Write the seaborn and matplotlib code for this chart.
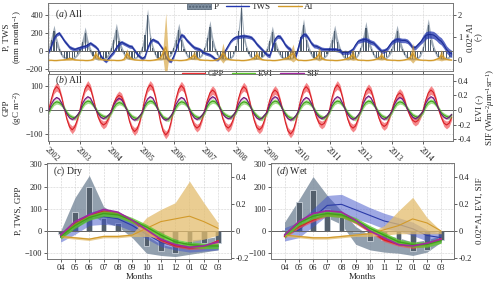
import numpy as np
import matplotlib
matplotlib.use("Agg")
import matplotlib.pyplot as plt
from matplotlib.patches import Patch
from matplotlib.lines import Line2D
import seaborn as sns

# ---------------- data ----------------
years = ['2002', '2003', '2004', '2005', '2006', '2007', '2008',
         '2009', '2010', '2011', '2012', '2013', '2014']
months = ['04', '05', '06', '07', '08', '09', '10', '11', '12', '01', '02', '03']

# (a) monthly anomalies, Apr 2002 - Mar 2015
p_all = [30, 120, 220, 100, 20, -40, -70, -80, -75, -80, -65, -30,
         20, 100, 200, 80, 10, -50, -75, -85, -80, -80, -70, -35,
         40, 130, 240, 110, 30, -30, -70, -80, -80, -75, -60, -25,
         50, 180, 400, 150, 40, -40, -75, -85, -80, -80, -65, -30,
         40, 130, 240, 120, 30, -35, -70, -80, -80, -75, -65, -30,
         40, 150, 270, 110, 20, -40, -70, -85, -85, -80, -70, -35,
         60, 220, 480, 160, 40, -30, -65, -80, -80, -75, -60, -25,
         30, 110, 210, 90, 20, -40, -70, -80, -80, -80, -70, -30,
         50, 160, 290, 120, 30, -35, -70, -80, -85, -80, -65, -30,
         40, 120, 220, 100, 20, -40, -75, -85, -80, -80, -70, -30,
         40, 140, 260, 110, 30, -40, -70, -80, -80, -80, -65, -30,
         30, 120, 220, 100, 20, -40, -70, -80, -85, -80, -70, -35,
         50, 170, 290, 130, 40, -30, -65, -80, -80, -75, -65, -30]
p_spread_month = [30, 50, 70, 50, 30, 20, 15, 12, 10, 10, 12, 20]

tws_all = [-10, 60, 140, 185, 200, 160, 115, 80, 45, 30, 20, 30,
           40, 50, 55, 70, 90, 70, 50, 20, -50, -90, -110, -80,
           -40, -10, 40, 80, 100, 85, 70, 55, 50, 10, -30, -60,
           -80, -60, 30, 100, 130, 115, 100, 60, 20, -60, -100, -110,
           -60, 20, 110, 180, 165, 125, 95, 65, 40, 30, 20, 0,
           -20, -30, -40, -60, -85, -90, -60, -30, 10, 60, 110, 140,
           155, 160, 165, 170, 165, 160, 150, 120, 80, 50, 20, -10,
           -40, -50, 40, 130, 165, 160, 120, 70, 40, 20, -30, -60,
           40, 150, 185, 180, 140, 90, 60, 55, 40, 25, 20, 20,
           20, 20, 20, 15, 5, -15, -10, -15, 0, 20, 70, 110,
           120, 130, 130, 115, 100, 90, 60, 30, 0, 5, 20, 60,
           100, 120, 130, 125, 120, 120, 110, 80, 40, 40, 70, 100,
           140, 175, 185, 185, 180, 160, 130, 110, 70, 20, -10, -30]
tws_spread_year = [20, 18, 20, 18, 20, 18, 20, 22, 22, 22, 25, 25, 40]

ai_all = [-0.02, -0.02, -0.03, -0.03, -0.02, -0.01, 0.00, 0.02, 0.05, 0.03, 0.00, -0.01,
          -0.02, -0.02, -0.03, -0.03, -0.02, 0.02, 0.25, 0.10, 0.02, 0.00, -0.01, -0.02,
          -0.02, -0.02, -0.03, -0.03, -0.02, 0.03, 0.28, 0.12, 0.03, 0.00, -0.01, -0.02,
          -0.02, -0.02, -0.03, -0.03, -0.02, 0.00, 0.03, 0.10, 0.30, 0.58, 0.05, -0.01,
          -0.02, -0.02, -0.03, -0.03, -0.02, 0.00, 0.05, 0.12, 0.20, 0.06, 0.00, -0.01,
          -0.02, -0.02, -0.03, -0.03, -0.02, 0.02, 0.10, 0.30, 0.10, 0.02, 0.00, -0.01,
          -0.02, -0.02, -0.03, -0.03, -0.02, 0.00, 0.03, 0.08, 0.22, 0.08, 0.01, -0.01,
          -0.02, -0.02, -0.03, -0.03, -0.02, 0.00, 0.02, 0.05, 0.10, 0.18, 0.30, 0.05,
          -0.02, -0.02, -0.03, -0.03, -0.02, 0.00, 0.03, 0.10, 0.25, 0.08, 0.01, -0.01,
          -0.02, -0.02, -0.03, -0.03, -0.02, 0.00, 0.02, 0.06, 0.12, 0.22, 0.05, -0.01,
          -0.02, -0.02, -0.03, -0.03, -0.02, 0.00, 0.03, 0.08, 0.18, 0.06, 0.00, -0.01,
          -0.02, -0.02, -0.03, -0.03, -0.02, 0.00, 0.03, 0.10, 0.30, 0.08, 0.01, -0.01,
          -0.02, -0.02, -0.03, -0.03, -0.02, 0.02, 0.06, 0.20, 0.08, 0.02, 0.00, -0.01]
ai_spread = [0.02, 0.02, 0.02, 0.02, 0.02, 0.02, 0.03, 0.05, 0.08, 0.05, 0.03, 0.02,
             0.02, 0.02, 0.02, 0.02, 0.02, 0.05, 0.20, 0.10, 0.04, 0.02, 0.02, 0.02,
             0.02, 0.02, 0.02, 0.02, 0.02, 0.05, 0.22, 0.10, 0.04, 0.02, 0.02, 0.02,
             0.02, 0.02, 0.02, 0.02, 0.02, 0.03, 0.05, 0.10, 0.30, 1.50, 0.10, 0.03,
             0.02, 0.02, 0.02, 0.02, 0.02, 0.03, 0.05, 0.10, 0.20, 0.06, 0.03, 0.02,
             0.02, 0.02, 0.02, 0.02, 0.02, 0.03, 0.10, 0.45, 0.10, 0.03, 0.02, 0.02,
             0.02, 0.02, 0.02, 0.02, 0.02, 0.02, 0.04, 0.08, 0.20, 0.08, 0.03, 0.02,
             0.02, 0.02, 0.02, 0.02, 0.02, 0.02, 0.03, 0.05, 0.10, 0.20, 0.40, 0.05,
             0.02, 0.02, 0.02, 0.02, 0.02, 0.02, 0.04, 0.10, 0.30, 0.08, 0.03, 0.02,
             0.02, 0.02, 0.02, 0.02, 0.02, 0.02, 0.03, 0.06, 0.12, 0.25, 0.06, 0.02,
             0.02, 0.02, 0.02, 0.02, 0.02, 0.02, 0.03, 0.08, 0.20, 0.06, 0.03, 0.02,
             0.02, 0.02, 0.02, 0.02, 0.02, 0.02, 0.04, 0.12, 0.45, 0.10, 0.03, 0.02,
             0.02, 0.02, 0.02, 0.02, 0.02, 0.03, 0.08, 0.25, 0.10, 0.03, 0.02, 0.02]

# (b)
gpp_all = [2, 45, 82, 96, 85, 50, 5, -40, -70, -82, -70, -40,
           0, 50, 88, 103, 90, 52, 8, -30, -52, -62, -55, -35,
           -5, 28, 50, 60, 54, 30, 0, -45, -76, -89, -78, -48,
           -5, 50, 88, 103, 92, 55, 5, -50, -88, -103, -90, -52,
           0, 48, 86, 100, 88, 50, 3, -37, -64, -75, -66, -38,
           0, 40, 70, 82, 72, 42, 2, -38, -65, -75, -65, -38,
           0, 47, 82, 96, 85, 48, 3, -42, -72, -82, -72, -42,
           0, 40, 70, 82, 72, 40, 0, -50, -86, -99, -86, -50,
           -2, 47, 83, 96, 84, 48, 4, -31, -54, -62, -55, -32,
           0, 52, 89, 103, 90, 52, 4, -38, -65, -75, -66, -38,
           0, 44, 77, 89, 78, 45, 2, -34, -59, -68, -60, -34,
           0, 35, 60, 70, 61, 36, 0, -25, -43, -50, -44, -26,
           0, 40, 70, 82, 72, 42, 0, -31, -54, -62, -55, -31]
gpp_spread_month = [5, 10, 15, 18, 15, 10, 6, 10, 14, 16, 14, 10]

evi_all = [-0.03, 0.04, 0.09, 0.11, 0.10, 0.07, 0.02, -0.04, -0.08, -0.10, -0.11, -0.08,
           -0.03, 0.05, 0.10, 0.12, 0.11, 0.07, 0.02, -0.04, -0.07, -0.09, -0.10, -0.08,
           -0.04, 0.03, 0.08, 0.10, 0.09, 0.06, 0.01, -0.05, -0.09, -0.11, -0.12, -0.09,
           -0.04, 0.05, 0.10, 0.12, 0.11, 0.07, 0.01, -0.05, -0.10, -0.12, -0.13, -0.09,
           -0.03, 0.04, 0.09, 0.11, 0.10, 0.07, 0.02, -0.04, -0.08, -0.10, -0.11, -0.08,
           -0.03, 0.05, 0.10, 0.12, 0.11, 0.07, 0.02, -0.04, -0.07, -0.09, -0.10, -0.07,
           -0.03, 0.04, 0.09, 0.11, 0.10, 0.07, 0.02, -0.04, -0.08, -0.11, -0.12, -0.08,
           -0.04, 0.05, 0.10, 0.12, 0.11, 0.07, 0.01, -0.05, -0.09, -0.11, -0.12, -0.09,
           -0.03, 0.04, 0.09, 0.11, 0.10, 0.07, 0.02, -0.04, -0.08, -0.10, -0.11, -0.08,
           -0.03, 0.05, 0.10, 0.12, 0.11, 0.07, 0.02, -0.04, -0.08, -0.11, -0.12, -0.08,
           -0.03, 0.05, 0.10, 0.12, 0.11, 0.07, 0.02, -0.04, -0.08, -0.10, -0.11, -0.08,
           -0.03, 0.04, 0.09, 0.11, 0.10, 0.07, 0.02, -0.03, -0.07, -0.09, -0.10, -0.07,
           -0.03, 0.05, 0.10, 0.12, 0.11, 0.07, 0.02, -0.04, -0.07, -0.09, -0.10, -0.07]
sif_all = [-0.02, 0.08, 0.14, 0.17, 0.15, 0.09, 0.01, -0.06, -0.11, -0.13, -0.11, -0.07,
           -0.02, 0.09, 0.15, 0.18, 0.16, 0.09, 0.01, -0.05, -0.10, -0.12, -0.10, -0.07,
           -0.03, 0.07, 0.13, 0.16, 0.14, 0.08, 0.00, -0.07, -0.12, -0.14, -0.12, -0.08,
           -0.03, 0.08, 0.15, 0.18, 0.16, 0.09, 0.00, -0.07, -0.12, -0.14, -0.12, -0.08,
           -0.02, 0.08, 0.14, 0.17, 0.15, 0.09, 0.01, -0.06, -0.11, -0.13, -0.11, -0.07,
           -0.02, 0.09, 0.15, 0.18, 0.16, 0.09, 0.01, -0.06, -0.10, -0.12, -0.11, -0.07,
           -0.02, 0.08, 0.14, 0.17, 0.15, 0.09, 0.01, -0.06, -0.11, -0.13, -0.11, -0.07,
           -0.03, 0.08, 0.15, 0.18, 0.16, 0.09, 0.00, -0.07, -0.12, -0.14, -0.12, -0.08,
           -0.02, 0.08, 0.14, 0.17, 0.15, 0.09, 0.01, -0.06, -0.10, -0.12, -0.10, -0.07,
           -0.02, 0.09, 0.15, 0.18, 0.16, 0.09, 0.01, -0.06, -0.11, -0.13, -0.11, -0.07,
           -0.02, 0.09, 0.16, 0.19, 0.16, 0.09, 0.01, -0.06, -0.11, -0.13, -0.11, -0.07,
           -0.02, 0.08, 0.14, 0.17, 0.15, 0.09, 0.01, -0.05, -0.10, -0.12, -0.10, -0.06,
           -0.02, 0.09, 0.15, 0.18, 0.16, 0.09, 0.01, -0.06, -0.10, -0.12, -0.10, -0.06]
evi_spread, sif_spread = 0.03, 0.015

# (c) dry and (d) wet climatology
p_dry = [-13, 87, 200, 60, 35, 0, -68, -92, -97, -63, -56, -56]
p_dry_lo = [-25, 10, 80, 40, 20, -30, -100, -110, -115, -105, -95, -85]
p_dry_hi = [0, 150, 250, 110, 70, 40, -20, -60, -75, -40, -35, -25]
tws_dry = [-30, 10, 55, 65, 55, 25, -15, -50, -70, -80, -75, -70]
tws_dry_sd = [20, 25, 30, 35, 30, 25, 20, 20, 15, 15, 15, 15]
gpp_dry = [-20, 30, 70, 88, 78, 45, 0, -40, -65, -75, -72, -45]
evi_dry = [-0.04, 0.04, 0.10, 0.13, 0.12, 0.08, 0.03, -0.03, -0.08, -0.10, -0.11, -0.11]
sif_dry = [-0.03, 0.07, 0.12, 0.16, 0.14, 0.08, 0.01, -0.06, -0.10, -0.12, -0.11, -0.08]
ai_dry = [-0.04, -0.05, -0.06, -0.04, -0.04, -0.03, 0.02, 0.07, 0.09, 0.11, 0.07, 0.02]
ai_dry_lo = [-0.05, -0.06, -0.07, -0.05, -0.05, -0.04, -0.04, -0.05, -0.06, -0.08, -0.06, -0.03]
ai_dry_hi = [-0.03, -0.04, -0.05, -0.03, -0.03, -0.02, 0.10, 0.16, 0.21, 0.37, 0.21, 0.06]

p_wet = [5, 130, 185, 100, 65, -5, -45, -40, -55, -88, -85, -40]
p_wet_lo = [-25, 10, 90, 60, 30, -60, -85, -95, -100, -110, -95, -50]
p_wet_hi = [40, 140, 245, 160, 90, 20, -20, -20, -30, -50, -40, -20]
tws_wet = [-15, 5, 60, 115, 120, 95, 70, 45, 30, 10, -20, -30]
tws_wet_sd = [30, 35, 40, 45, 45, 40, 35, 35, 30, 30, 25, 20]
gpp_wet = [-25, 20, 50, 75, 70, 40, 0, -40, -60, -70, -60, -35]
evi_wet = [-0.03, 0.06, 0.11, 0.13, 0.12, 0.08, 0.02, -0.03, -0.08, -0.10, -0.10, -0.07]
sif_wet = [-0.03, 0.07, 0.13, 0.15, 0.14, 0.08, 0.00, -0.05, -0.10, -0.11, -0.09, -0.06]
ai_wet = [-0.03, -0.04, -0.05, -0.05, -0.04, -0.03, -0.02, 0.01, 0.04, 0.09, 0.06, 0.00]
ai_wet_lo = [-0.04, -0.05, -0.06, -0.06, -0.05, -0.04, -0.04, -0.03, -0.02, -0.02, -0.02, -0.02]
ai_wet_hi = [-0.02, -0.03, -0.04, -0.04, -0.03, -0.02, -0.01, 0.04, 0.15, 0.25, 0.10, 0.00]

# ---------------- style ----------------
sns.set_theme(style="ticks")
plt.rcParams['font.family'] = ['Liberation Serif', 'DejaVu Serif']
plt.rcParams['mathtext.fontset'] = 'custom'
plt.rcParams['mathtext.rm'] = 'Liberation Serif'
plt.rcParams['mathtext.it'] = 'Liberation Serif:italic'
plt.rcParams['font.size'] = 6.5

C_P, C_PB = '#4f5f70', '#7f8fa0'
C_TWS = '#2438b0'
C_AI = '#d29a2a'
C_GPP, C_EVI, C_SIF = '#ee3035', '#5cc72e', '#a0289f'

fig = plt.figure(figsize=(5, 2.84), dpi=100)


def box(l, t, r, b):
    return [l / 500, 1 - b / 284, (r - l) / 500, (b - t) / 284]


def style(ax, twin=None):
    for a in [ax] + ([twin] if twin is not None else []):
        for s in a.spines.values():
            s.set_color('#777777')
            s.set_linewidth(0.6)
        a.tick_params(labelsize=6, length=2, width=0.5, pad=1.5, colors='#222222')
    ax.grid(True, ls='--', lw=0.4, color='#d0d0d0')
    ax.axhline(0, color='#666666', lw=0.7, zorder=1)


ax_a = fig.add_axes(box(48, 3, 453, 71))
ax_b = fig.add_axes(box(48, 74, 453, 141))
ax_c = fig.add_axes(box(47, 163, 231, 259))
ax_d = fig.add_axes(box(271, 163, 454, 259))

t = np.arange(len(p_all))
cal = np.arange(len(p_all)) % 12
yr = np.arange(len(p_all)) // 12

# ---- (a)
ax_a2 = ax_a.twinx()
p_sd = np.array(p_spread_month)[cal]
ax_a.fill_between(t, np.array(p_all) - p_sd, np.array(p_all) + p_sd, color=C_PB, alpha=0.75, lw=0)
ax_a.bar(t, p_all, width=0.45, color=C_P, lw=0)
tws_sd = np.array(tws_spread_year)[yr]
ax_a.fill_between(t, np.array(tws_all) - tws_sd, np.array(tws_all) + tws_sd, color=C_TWS, alpha=0.75, lw=0)
sns.lineplot(x=t, y=tws_all, ax=ax_a, color='#1d2e96', lw=0.8)
ax_a2.fill_between(t, np.array(ai_all) - np.array(ai_spread), np.array(ai_all) + np.array(ai_spread),
                   color=C_AI, alpha=0.6, lw=0)
sns.lineplot(x=t, y=ai_all, ax=ax_a2, color=C_AI, lw=0.9)
ax_a.set_xlim(-0.3, 155.5)
ax_a.set_ylim(-218, 534)
ax_a.set_yticks([-200, 0, 200, 400])
ax_a2.set_ylim(-0.5, 2.53)
ax_a2.set_yticks([0, 1, 2])
ax_a.set_xticks(np.arange(0, 156, 12))
ax_a.set_xticklabels([])
ax_a.set_ylabel('P, TWS\n(mm month$^{-1}$)', fontsize=6.5, labelpad=1, linespacing=1.1)
ax_a2.set_ylabel('0.02*AI\n(-)', fontsize=6.5, labelpad=3, linespacing=1.1)
ax_a.text(0.017, 0.83, r'($\it{a}$) All', transform=ax_a.transAxes, fontsize=7, va='center')
style(ax_a, ax_a2)
ax_a.legend(handles=[Patch(facecolor=C_PB, edgecolor=C_P, hatch='.....', lw=0.5, label='P'),
                     Line2D([], [], color=C_TWS, lw=1, label='TWS'),
                     Line2D([], [], color=C_AI, lw=1, label='AI')],
            loc='center', bbox_to_anchor=(0.5, 0.94), ncol=3, frameon=False, fontsize=6.5,
            handlelength=2.6, handletextpad=0.3, columnspacing=0.8, borderpad=0)

# ---- (b)
ax_b2 = ax_b.twinx()
g_sd = np.array(gpp_spread_month)[cal]
ax_b.fill_between(t, np.array(gpp_all) - g_sd, np.array(gpp_all) + g_sd, color='#f26065', alpha=0.75, lw=0)
sns.lineplot(x=t, y=gpp_all, ax=ax_b, color='#d81f26', lw=0.8)
ax_b2.fill_between(t, np.array(evi_all) - evi_spread, np.array(evi_all) + evi_spread, color=C_EVI, alpha=0.55, lw=0)
sns.lineplot(x=t, y=evi_all, ax=ax_b2, color='#3f9f1a', lw=0.8)
ax_b2.fill_between(t, np.array(sif_all) - sif_spread, np.array(sif_all) + sif_spread, color=C_SIF, alpha=0.45, lw=0)
sns.lineplot(x=t, y=sif_all, ax=ax_b2, color='#6b1a78', lw=0.8)
ax_b.set_xlim(-0.3, 155.5)
ax_b.set_ylim(-128, 148)
ax_b.set_yticks([-100, 0, 100])
ax_b2.set_ylim(-0.425, 0.49)
ax_b2.set_yticks([-0.4, -0.2, 0, 0.2, 0.4])
ax_b2.set_yticklabels(['-0.4', '-0.2', '0', '0.2', '0.4'])
ax_b.set_xticks(np.arange(0, 156, 12))
ax_b.set_xticklabels(years, rotation=-45, ha='left', va='top', rotation_mode='anchor', fontsize=6)
ax_b.set_ylabel('GPP\n(gC m$^{-2}$)', fontsize=6.5, labelpad=1, linespacing=1.1)
ax_b2.set_ylabel('EVI (-)\nSIF (Wm$^{-2}$$\\mu$m$^{-1}$sr$^{-1}$)', fontsize=6.5, labelpad=3, linespacing=1.1)
ax_b.text(0.017, 0.9, r'($\it{b}$) All', transform=ax_b.transAxes, fontsize=7, va='center')
style(ax_b, ax_b2)
ax_b.legend(handles=[Line2D([], [], color=C_GPP, lw=1, label='GPP'),
                     Line2D([], [], color=C_EVI, lw=1, label='EVI'),
                     Line2D([], [], color=C_SIF, lw=1, label='SIF')],
            loc='center', bbox_to_anchor=(0.5, 1.0), ncol=3, frameon=False, fontsize=6.5,
            handlelength=2.6, handletextpad=0.3, columnspacing=0.8, borderpad=0)

# ---- (c), (d)
x12 = np.arange(12)


def season(ax, tag, p, plo, phi, tws, tsd, gpp, evi, sif, ai, alo, ahi, left_lab, right_lab):
    ax2 = ax.twinx()
    ax.fill_between(x12, plo, phi, color=C_PB, alpha=0.85, lw=0, zorder=2)
    ax2.fill_between(x12, alo, ahi, color='#e3bd6e', alpha=0.75, lw=0)
    sns.barplot(x=x12, y=p, ax=ax, native_scale=True, width=0.4, color=C_P,
                edgecolor='#c9d1da', linewidth=0.6, errorbar=None, zorder=3)
    ax.fill_between(x12, np.array(tws) - np.array(tsd), np.array(tws) + np.array(tsd),
                    color='#3f52c9', alpha=0.5, lw=0, zorder=4)
    sns.lineplot(x=x12, y=tws, ax=ax, color='#2a3aa8', lw=0.8, zorder=5)
    ax.fill_between(x12, np.array(gpp) - 8, np.array(gpp) + 8, color='#f05050', alpha=0.7, lw=0, zorder=5)
    sns.lineplot(x=x12, y=gpp, ax=ax, color='#d81f26', lw=1.2, zorder=6)
    sns.lineplot(x=x12, y=ai, ax=ax2, color=C_AI, lw=0.8)
    ax2.fill_between(x12, np.array(evi) - 0.02, np.array(evi) + 0.02, color=C_EVI, alpha=0.8, lw=0)
    sns.lineplot(x=x12, y=evi, ax=ax2, color='#3f9f1a', lw=1.0)
    sns.lineplot(x=x12, y=sif, ax=ax2, color=C_SIF, lw=1.2)
    ax.set_xlim(-0.95, 11.9)
    ax.set_ylim(-126, 306)
    ax.set_yticks([-100, 0, 100, 200, 300])
    ax2.set_ylim(-0.207, 0.504)
    ax2.set_yticks([-0.2, 0, 0.2, 0.4])
    ax2.set_yticklabels(['-0.2', '0', '0.2', '0.4'])
    ax.set_xticks(x12)
    ax.set_xticklabels(months, fontsize=6)
    ax.set_xlabel('Months', fontsize=6.5, labelpad=1)
    ax.set_ylabel(left_lab, fontsize=6.5, labelpad=1)
    ax2.set_ylabel(right_lab, fontsize=6.5, labelpad=3)
    ax.text(0.03, 0.91, tag, transform=ax.transAxes, fontsize=7, va='center')
    style(ax, ax2)
    ax.axhline(0, color='#666666', lw=0.7, zorder=7)


season(ax_c, r'($\it{c}$) Dry', p_dry, p_dry_lo, p_dry_hi, tws_dry, tws_dry_sd, gpp_dry,
       evi_dry, sif_dry, ai_dry, ai_dry_lo, ai_dry_hi, 'P, TWS, GPP', '')
season(ax_d, r'($\it{d}$) Wet', p_wet, p_wet_lo, p_wet_hi, tws_wet, tws_wet_sd, gpp_wet,
       evi_wet, sif_wet, ai_wet, ai_wet_lo, ai_wet_hi, '', '0.02*AI, EVI, SIF')

fig.savefig('out.png', dpi=100)
